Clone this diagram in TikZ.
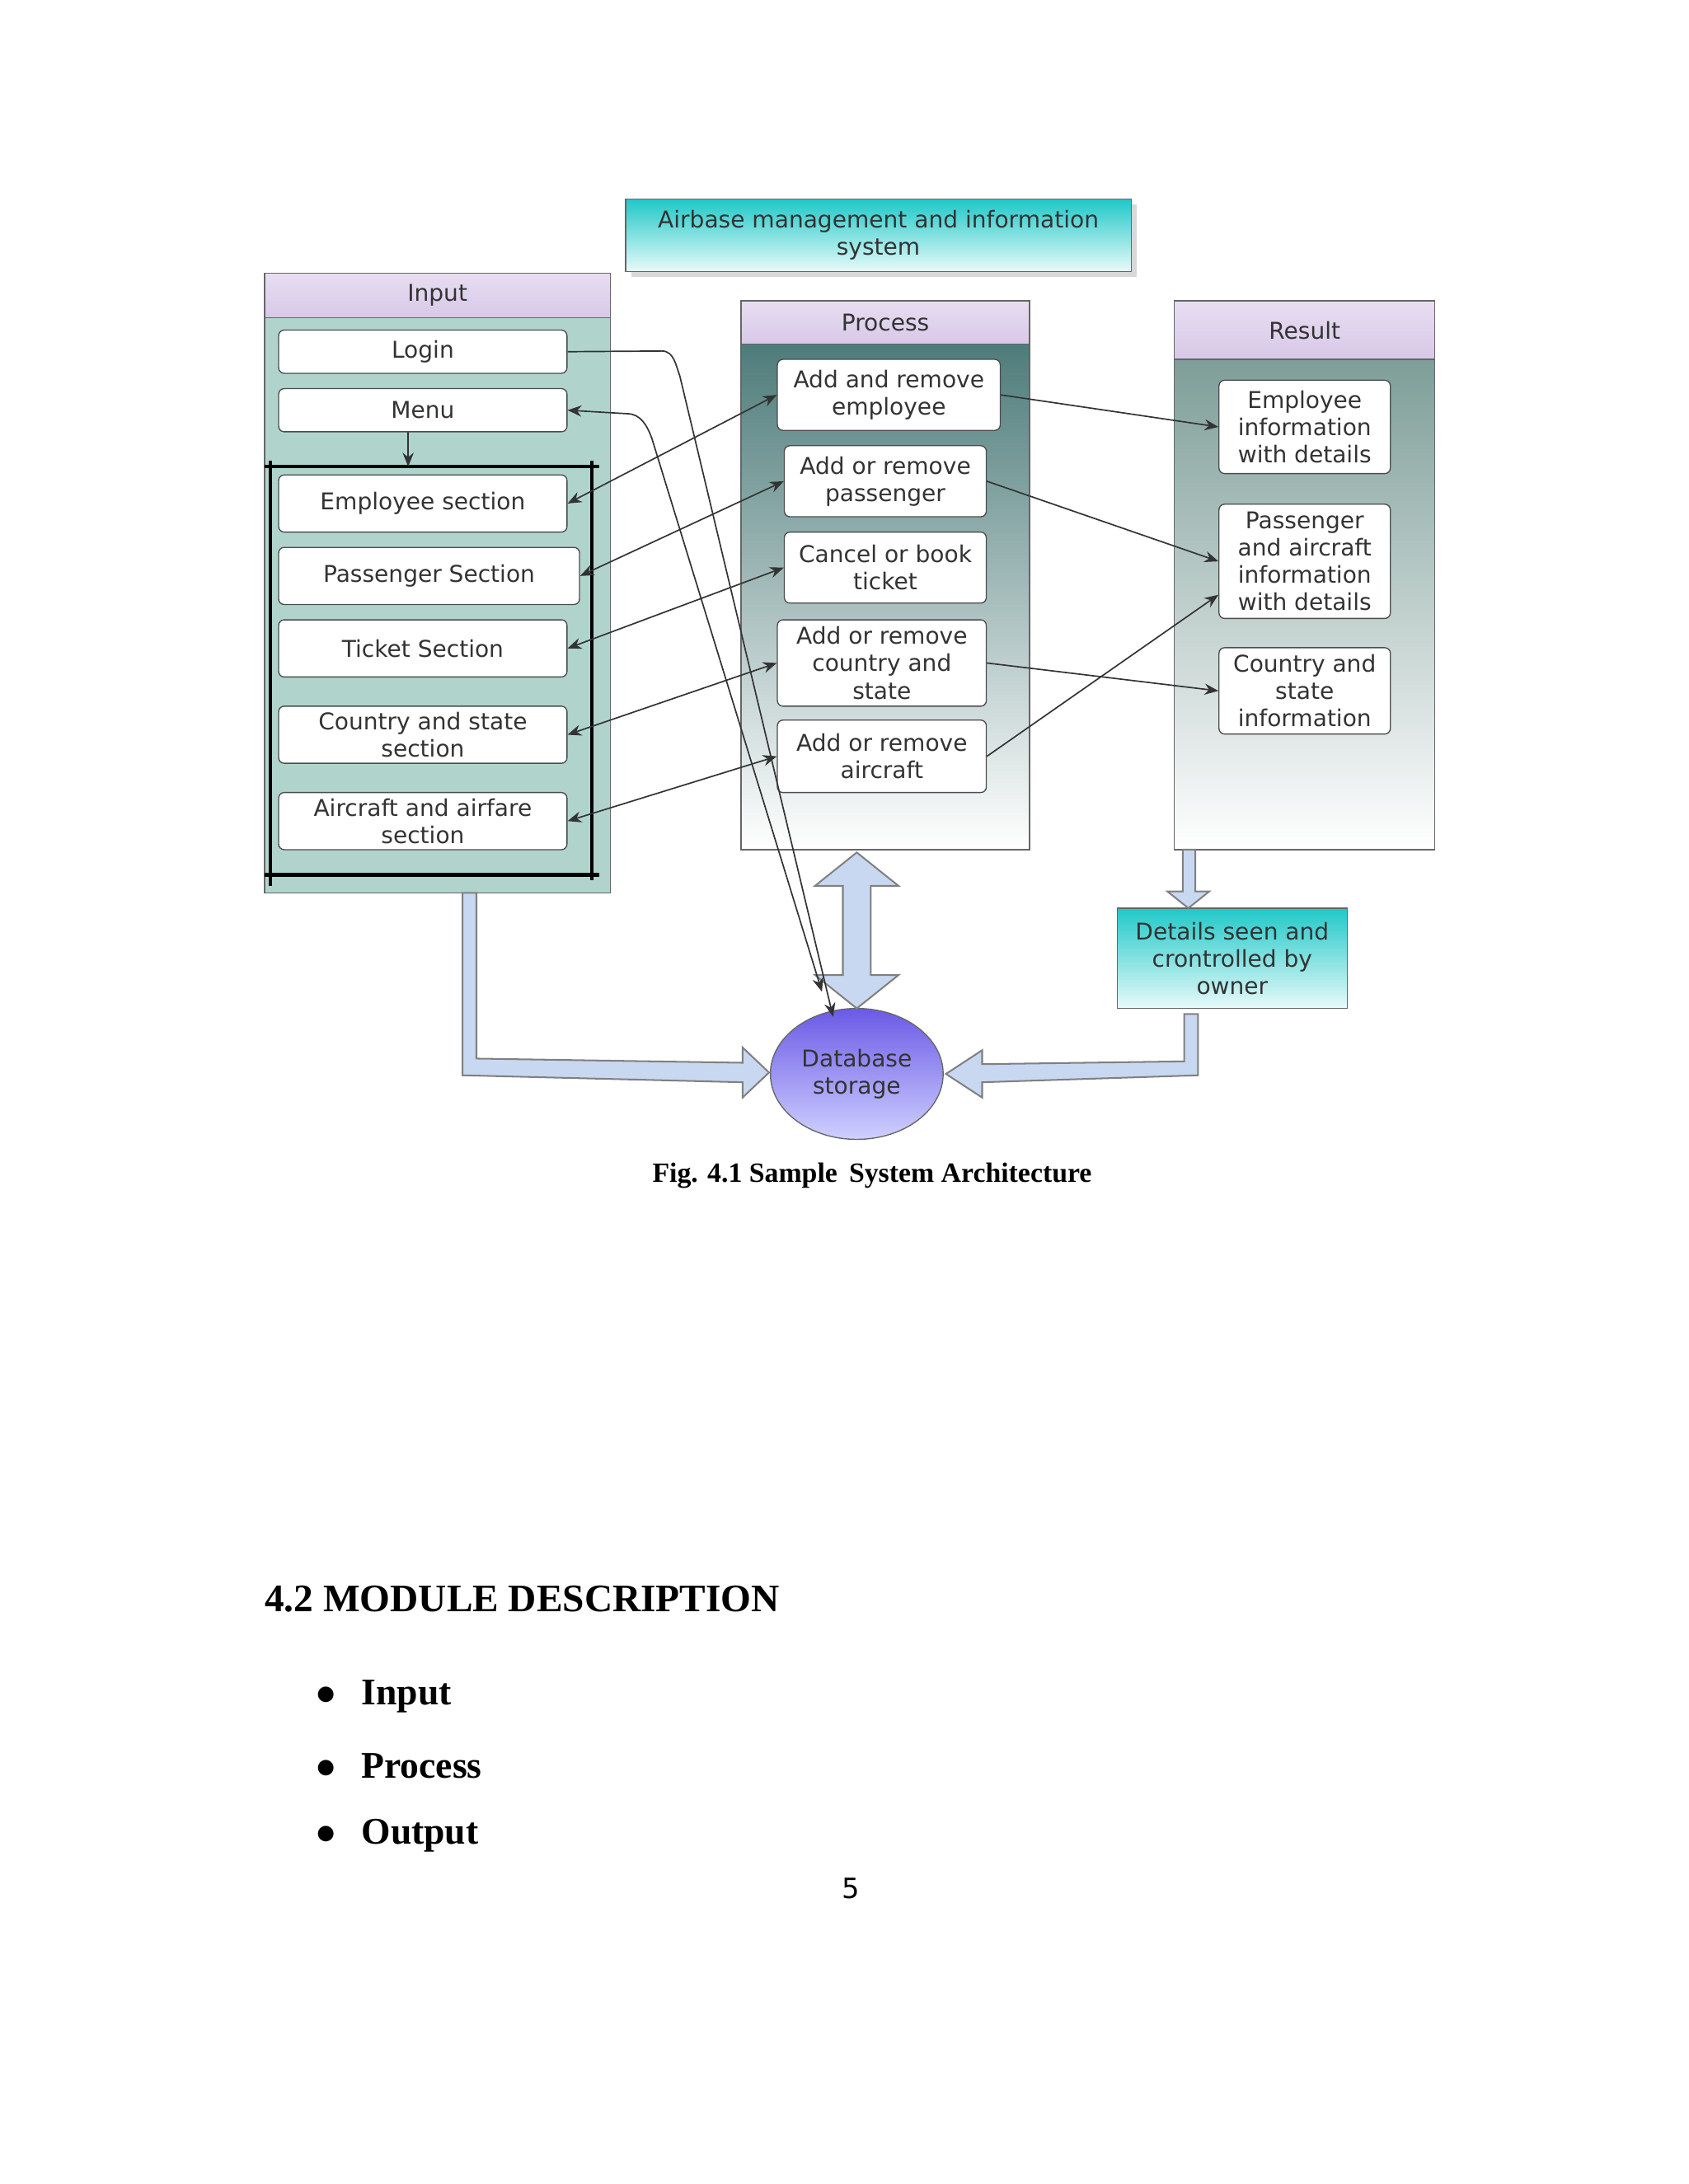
\documentclass[tikz,border=0pt]{standalone}
\usepackage{fontspec}
\setmainfont{DejaVu Sans}
\newfontfamily\serifb{Liberation Serif}
\usetikzlibrary{arrows.meta,shadows}
\definecolor{cyanA}{HTML}{20C8C8}
\definecolor{cyanB}{HTML}{E8FAFA}
\definecolor{purA}{HTML}{D8C8E8}
\definecolor{tealIn}{HTML}{B0D4CC}
\definecolor{tealPr}{HTML}{4E7C7A}
\definecolor{tealRe}{HTML}{7E9E98}
\definecolor{blueA}{HTML}{6A5AE6}
\definecolor{blueB}{HTML}{D0D0FF}
\definecolor{fatb}{HTML}{C8D8F0}
\tikzset{
 x=0.5pt,y=-0.5pt,
 txt/.style={font=\fontsize{8.3}{9.8}\selectfont,align=center,text=black!80},
 ibox/.style={draw=black!70,fill=white,rounded corners=2pt,txt},
 hdr/.style={draw=black!60,top color=purA!60,bottom color=purA,txt},
 cyanbox/.style={draw=black!60,top color=cyanA,bottom color=cyanB,txt},
 arr/.style={-{Stealth[length=5pt,width=4pt]},black!80,line width=0.5pt},
 barr/.style={{Stealth[length=5pt,width=4pt]}-{Stealth[length=5pt,width=4pt]},black!80,line width=0.5pt},
 fat/.style={draw=black!50,fill=fatb,line width=0.6pt},
}
\begin{document}
\begin{tikzpicture}
\useasboundingbox[fill=white] (0,0) rectangle (1212,1568);
\def\bx#1#2#3#4#5#6#7{\node[#7,minimum width=(#3-#1)*0.5pt,minimum height=(#4-#2)*0.5pt,inner sep=0pt] (#5) at ({(#1+#3)/2},{(#2+#4)/2}) {#6};}
% title
\bx{449}{143}{812}{195}{title}{Airbase management and information\\system}{cyanbox,drop shadow={shadow xshift=2pt,shadow yshift=-2pt,fill=black!30}}
% panels
\fill[tealIn] (190,228) rectangle (438,641);
\draw[black!60] (190,228) rectangle (438,641);
\bx{190}{196}{438}{228}{inh}{Input}{hdr}
\shade[top color=tealPr,bottom color=white] (532,247) rectangle (739,610);
\draw[black!60] (532,247) rectangle (739,610);
\bx{532}{216}{739}{247}{prh}{Process}{hdr}
\shade[top color=tealRe,bottom color=white] (843,258) rectangle (1030,610);
\draw[black!60] (843,258) rectangle (1030,610);
\bx{843}{216}{1030}{258}{reh}{Result}{hdr}
% input boxes
\bx{200}{237}{407}{268}{login}{Login}{ibox}
\bx{200}{279}{407}{310}{menu}{Menu}{ibox}
\bx{200}{341}{407}{382}{emp}{Employee section}{ibox}
\bx{200}{393}{416}{434}{pas}{Passenger Section}{ibox}
\bx{200}{445}{407}{486}{tic}{Ticket Section}{ibox}
\bx{200}{507}{407}{548}{cou}{Country and state\\section}{ibox}
\bx{200}{569}{407}{610}{air}{Aircraft and airfare\\section}{ibox}
\draw[line width=1.3pt] (190,335) -- (430,335) (194,331) -- (194,636) (190,628) -- (430,628) (425,331) -- (425,632);
\coordinate (brt) at (293,335);
\draw[arr] (293,310) -- (brt);
% process boxes
\bx{558}{258}{718}{309}{p1}{Add and remove\\employee}{ibox}
\bx{563}{320}{708}{371}{p2}{Add or remove\\passenger}{ibox}
\bx{563}{382}{708}{433}{p3}{Cancel or book\\ticket}{ibox}
\bx{558}{445}{708}{507}{p4}{Add or remove\\country and\\state}{ibox}
\bx{558}{517}{708}{569}{p5}{Add or remove\\aircraft}{ibox}
% result boxes
\bx{875}{273}{998}{340}{r1}{Employee\\information\\with details}{ibox}
\bx{875}{362}{998}{444}{r2}{Passenger\\and aircraft\\information\\with details}{ibox}
\bx{875}{465}{998}{527}{r3}{Country and\\state\\information}{ibox}
\bx{802}{652}{967}{724}{det}{Details seen and\\crontrolled by\\owner}{cyanbox}
% database
\shade[top color=blueA,bottom color=blueB,draw=black!60] (615,771) ellipse [x radius=62,y radius=47];
\node[txt] (db) at (615,771) {Database\\storage};
% fat arrows
\draw[fat] (605,636) -- (585,636) -- (615,612) -- (645,636) -- (625,636) -- (625,700) -- (645,700) -- (615,724) -- (585,700) -- (605,700) -- cycle;
\draw[fat] (332,641) -- (342,641) -- (342,760) -- (533,763) -- (533,752) -- (552,770) -- (533,788) -- (533,777) -- (332,772) -- cycle;
\draw[fat] (860,728) -- (850,728) -- (850,762) -- (705,764) -- (705,754) -- (679,771) -- (705,788) -- (705,777) -- (860,772) -- cycle;
\draw[fat] (849,610) -- (858,610) -- (858,640) -- (868,640) -- (853,652) -- (838,640) -- (849,640) -- cycle;
% thin connectors
\draw[barr] (emp.east) -- (p1.west);
\draw[barr] (pas.east) -- (p2.west);
\draw[barr] (tic.east) -- (p3.west);
\draw[barr] (cou.east) -- (p4.west);
\draw[barr] (air.east) -- (p5.west);
\draw[arr] (p1.east) -- (r1.west);
\draw[arr] (p2.east) -- (r2.west);
\draw[arr] (p4.east) -- (r3.west);
\draw[arr] (p5.east) -- ([yshift=-12pt]r2.west);
\coordinate (dbl) at (598,730);
\coordinate (dbm) at (590,712);
\draw[arr] (login.east) -- (475,252) to[out=0,in=110] (488,270) -- (dbl);
\draw[barr] (dbm) -- (468,315) to[out=110,in=0] (450,297) -- (menu.east);
% text below
\node[font=\serifb\bfseries\fontsize{10}{12}\selectfont] (cap) at (626,844) {Fig. 4.1 Sample\, System Architecture};
\node[font=\serifb\bfseries\fontsize{14}{17}\selectfont,anchor=west] (h) at (183,1148) {4.2 MODULE DESCRIPTION};
\node[font=\serifb\bfseries\fontsize{13.5}{16}\selectfont,anchor=west] (b1) at (220,1218) {$\bullet$\hspace{9pt}Input};
\node[font=\serifb\bfseries\fontsize{13.5}{16}\selectfont,anchor=west] (b2) at (220,1268) {$\bullet$\hspace{9pt}Process};
\node[font=\serifb\bfseries\fontsize{13.5}{16}\selectfont,anchor=west] (b3) at (220,1318) {$\bullet$\hspace{9pt}Output};
\node[font=\fontsize{10}{12}\selectfont] (pg) at (611,1356) {5};
\end{tikzpicture}
\end{document}
